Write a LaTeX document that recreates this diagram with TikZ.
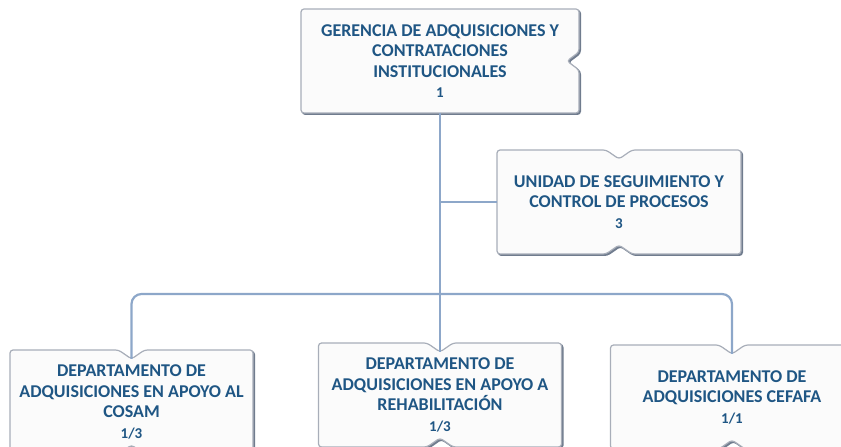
\documentclass[tikz,border=0pt]{standalone}
\usepackage{fontspec}
\setmainfont{Carlito}
\usetikzlibrary{calc,positioning,backgrounds}
\definecolor{textblue}{RGB}{31,86,132}
\definecolor{linkblue}{RGB}{141,167,201}
\definecolor{boxfill}{RGB}{251,251,251}
\definecolor{boxline}{RGB}{168,174,185}
\definecolor{boxshade}{RGB}{112,124,142}

\begin{document}
\begin{tikzpicture}[x=1pt,y=1pt,
    unit/.style={rectangle, outer sep=0pt, inner sep=0pt, minimum width=243pt, minimum height=104pt,
        align=center, text=textblue, font=\bfseries\fontsize{18}{20.5}\selectfont,
        execute at begin node=\rule{0pt}{17pt}},
    frame/.style={draw=boxline, fill=boxfill, line width=1.2pt, rounded corners=3pt},
    shade/.style={draw=boxshade, fill=boxshade, line width=1.2pt, rounded corners=3pt},
    link/.style={draw=linkblue, line width=2.2pt}
    ]
    \useasboundingbox (0,0) rectangle (841,447);
    \def\plaza#1{{\fontsize{15}{15}\selectfont #1}}
    % outline with notches: node, top depth, right depth, bottom depth
    \def\notchpath#1#2#3#4{(#1.north west) -- ([xshift=-13pt]#1.north) -- ([yshift=-#2pt]#1.north) -- ([xshift=13pt]#1.north)
        -- (#1.north east) -- ([yshift=9pt]#1.east) -- ([xshift=-#3pt]#1.east) -- ([yshift=-9pt]#1.east)
        -- (#1.south east) -- ([xshift=13pt]#1.south) -- ([yshift=#4pt]#1.south) -- ([xshift=-13pt]#1.south)
        -- (#1.south west) -- cycle}
    \def\notchframe#1#2#3#4{
        \begin{scope}[on background layer]
        \path[shade, transform canvas={xshift=1.4pt,yshift=-1.4pt}] \notchpath{#1}{#2}{#3}{#4};
        \path[frame] \notchpath{#1}{#2}{#3}{#4};
        \end{scope}
    }
    
    \node[unit, minimum width=278pt] (gerencia) at (440,386)
    {GERENCIA DE ADQUISICIONES Y\\CONTRATACIONES\\INSTITUCIONALES\\\plaza{1}};
    \node[unit, minimum width=244pt] (seguimiento) at (619,245)
    {UNIDAD DE SEGUIMIENTO Y\\CONTROL DE PROCESOS\\\plaza{3}};
    \node[unit] (cosam) at (131.5,45)
    {DEPARTAMENTO DE\\ADQUISICIONES EN APOYO AL\\COSAM\\\plaza{1/3}};
    \node[unit] (rehab) at (440,52)
    {DEPARTAMENTO DE\\ADQUISICIONES EN APOYO A\\REHABILITACIÓN\\\plaza{1/3}};
    \node[unit] (cefafa) at (732,50)
    {DEPARTAMENTO DE\\ADQUISICIONES CEFAFA\\\plaza{1/1}};
    
    \notchframe{gerencia}{0}{12}{0}
    \notchframe{seguimiento}{9}{0}{9}
    \notchframe{cosam}{9}{0}{9}
    \notchframe{rehab}{9}{0}{9}
    \notchframe{cefafa}{9}{0}{9}
    
    % connectors
    \coordinate (bus) at (440,153);
    \draw[link] (gerencia.south) -- ([yshift=-9pt]rehab.north);
    \draw[link] (seguimiento.west) -- (seguimiento.west -| gerencia.south);
    \draw[link, rounded corners=10pt] ([yshift=-9pt]cosam.north) |- (bus) -| ([yshift=-9pt]cefafa.north);
    
\end{tikzpicture}
\end{document}
